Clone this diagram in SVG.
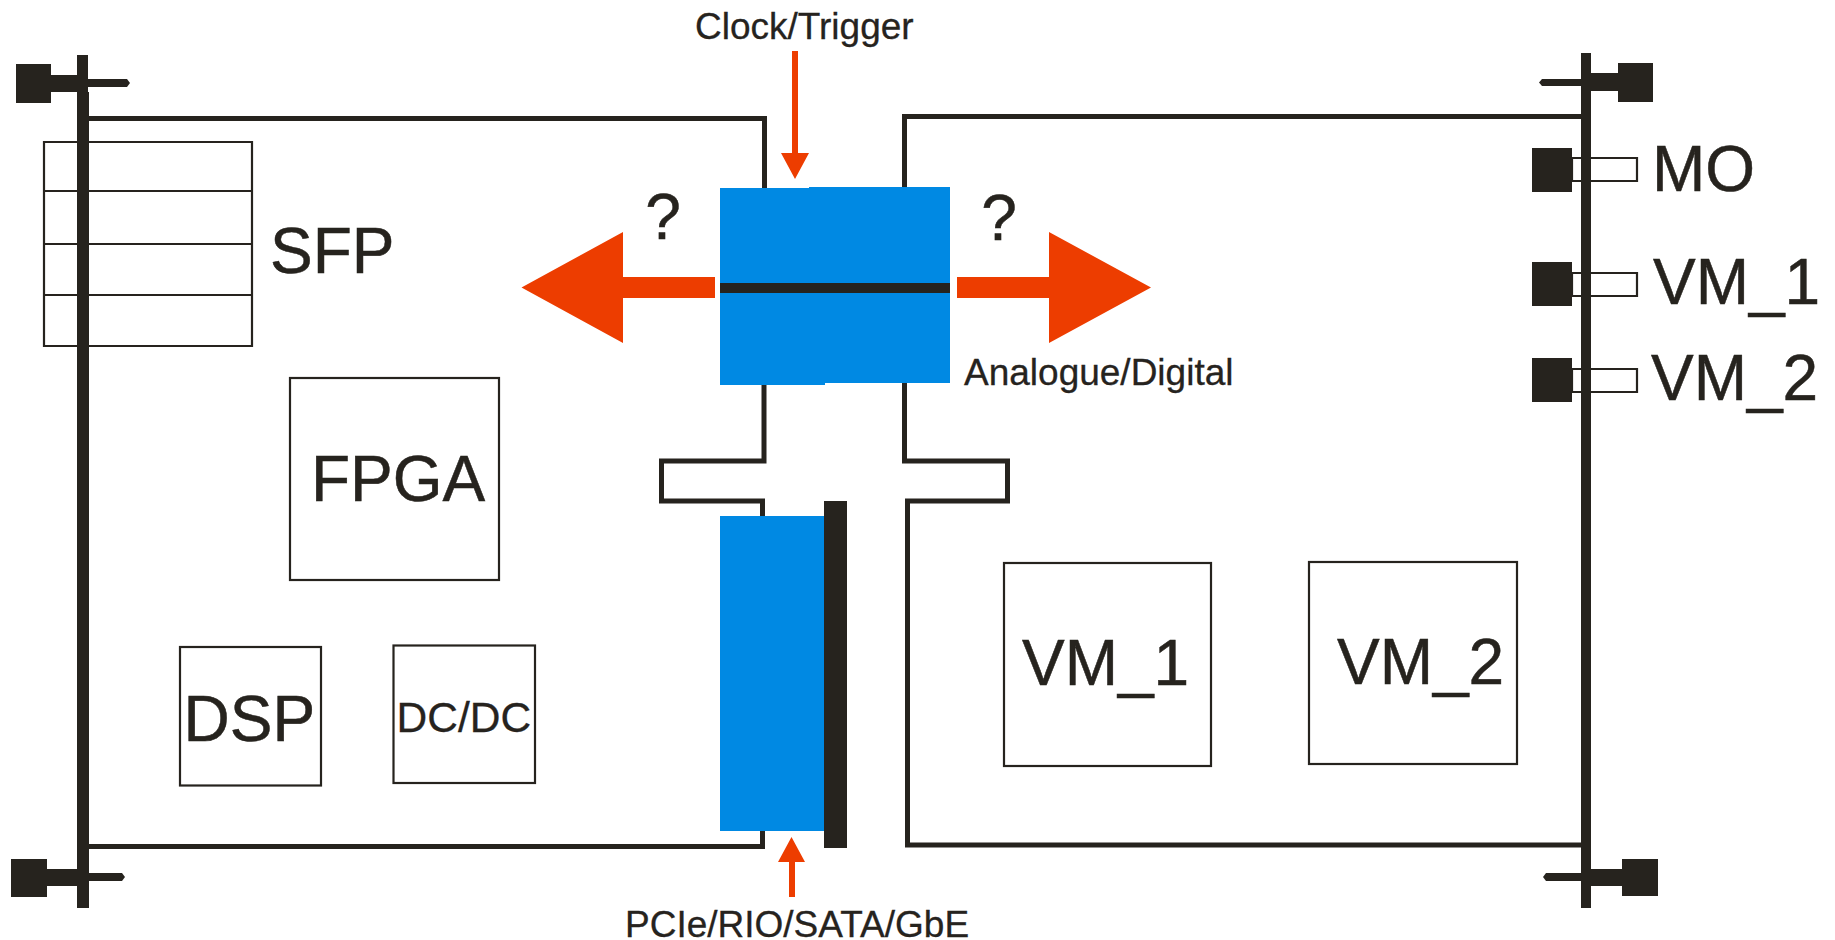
<svg xmlns="http://www.w3.org/2000/svg" width="1835" height="940" viewBox="0 0 1835 940">
<style>
.k{fill:#26231e}
.o{fill:#ed3d00}
.b{fill:#0089e3}
.l{fill:none;stroke:#26231e;stroke-width:5;stroke-linejoin:miter}
.t{fill:none;stroke:#26231e;stroke-width:2.2}
text{font-family:"Liberation Sans",Arial,sans-serif;fill:#26231e;stroke:#26231e;stroke-width:.5}
.s{font-size:37px;stroke-width:.3}
.m{font-size:64px}
</style>
<rect width="1835" height="940" fill="#fff"/>
<g id="left-board">
<path class="l" d="M88 118.500H764.500V188M764 385V461H661.500V501H762.500V516M762.500 831V846.500H88"/>
<rect class="k" x="77" y="55" width="11" height="40"/>
<rect class="k" x="16" y="64" width="35" height="39"/>
<rect class="k" x="51" y="75" width="26" height="17"/>
<rect class="k" x="77" y="92" width="12" height="816"/>
<path class="k" d="M88 79H127L130 83L127 87H88Z"/>
<rect class="k" x="11" y="859" width="36" height="38"/>
<rect class="k" x="47" y="869" width="30" height="17"/>
<path class="k" d="M88 873H122L125 877L122 881H88Z"/>
</g>
<g id="right-board">
<path class="l" d="M1581 116.500H904.500V187M904.500 383V461H1007.500V501H907.500V845H1581"/>
<rect class="k" x="1581" y="53" width="10" height="855"/>
<rect class="k" x="1618" y="63" width="35" height="39"/>
<rect class="k" x="1591" y="73" width="27" height="18"/>
<path class="k" d="M1581 79H1542L1539 82.500L1542 86H1581Z"/>
<rect class="k" x="1622" y="859" width="36" height="37"/>
<rect class="k" x="1591" y="869" width="31" height="17"/>
<path class="k" d="M1581 873H1546L1543 877L1546 881H1581Z"/>
</g>
<g id="sfp">
<path class="t" d="M44 142H252V346H44ZM44 191H252M44 244H252M44 295H252"/>
<rect class="k" x="77" y="130" width="12" height="230"/>
<text class="m" x="270" y="273">SFP</text>
</g>
<g id="fpga"><rect class="t" x="290" y="378" width="209" height="202"/><text class="m" x="311" y="501">FPGA</text></g>
<g id="dsp"><rect class="t" x="180" y="647" width="141" height="138.500"/><text class="m" x="183.500" y="741">DSP</text></g>
<g id="dcdc"><rect class="t" x="393.500" y="645.500" width="141.500" height="137.500"/><text x="396.500" y="732" style="font-size:42.500px;stroke-width:.3">DC/DC</text></g>
<g id="vm1"><rect class="t" x="1004" y="563" width="207" height="203"/><text class="m" x="1022" y="685">VM_1</text></g>
<g id="vm2"><rect class="t" x="1309" y="562" width="208" height="202"/><text class="m" x="1337" y="684">VM_2</text></g>
<g id="top-connector">
<path class="b" d="M720 188H809V187H950V383H825V385H720Z"/>
<rect class="k" x="720" y="283" width="230" height="10"/>
</g>
<g id="bottom-connector">
<rect class="b" x="720" y="516" width="105" height="315"/>
<rect class="k" x="824" y="501" width="23" height="347"/>
</g>
<g id="connectors">
<path class="o" d="M792 51H798V153H809L795 179L781 153H792Z"/>
<path class="o" d="M789 897V862H778L791.500 837L805 862H795V897Z"/>
<path class="o" d="M715 277V298H623V343L521.500 287.500L623 232V277Z"/>
<path class="o" d="M957 277V298H1049V343L1151 287.500L1049 232V277Z"/>
</g>
<g id="front-panel">
<path class="t" d="M1572 158H1637V181H1572ZM1572 273H1637V296H1572ZM1572 369H1637V392H1572Z"/>
<rect class="k" x="1581" y="140" width="10" height="270"/>
<rect class="k" x="1532" y="148" width="40" height="44"/>
<rect class="k" x="1532" y="262" width="40" height="44"/>
<rect class="k" x="1532" y="358" width="40" height="44"/>
<text class="m" x="1652" y="191">MO</text>
<text class="m" x="1653" y="304">VM_1</text>
<text class="m" x="1651" y="400">VM_2</text>
</g>
<g id="labels">
<text class="s" x="695" y="39">Clock/Trigger</text>
<text class="s" x="964" y="385">Analogue/Digital</text>
<text class="s" x="625" y="937">PCIe/RIO/SATA/GbE</text>
<text x="663" y="239" text-anchor="middle" style="font-size:64px">?</text>
<text x="999" y="240" text-anchor="middle" style="font-size:64px">?</text>
</g>
</svg>
